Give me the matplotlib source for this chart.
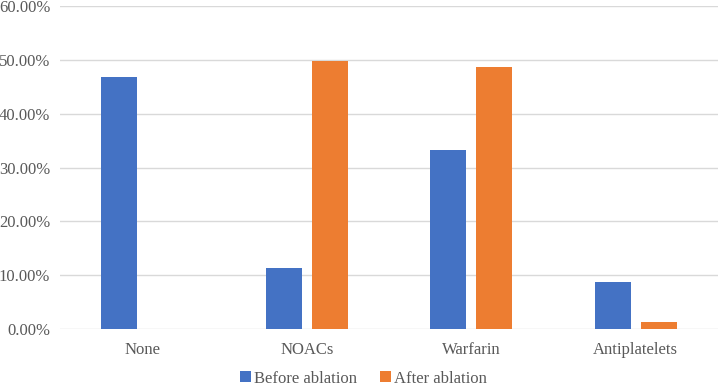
import matplotlib.pyplot as plt
import numpy as np
from matplotlib.ticker import FuncFormatter

# data
categories = ["None", "NOACs", "Warfarin", "Antiplatelets"]
before_ablation = [46.8, 11.3, 33.3, 8.7]
after_ablation = [0.0, 49.7, 48.6, 1.4]
series_names = ["Before ablation", "After ablation"]

blue = "#4472C4"
orange = "#ED7D31"
text_color = "#595959"

plt.rcParams["font.family"] = ["Liberation Serif", "DejaVu Serif"]

fig = plt.figure(figsize=(7.2, 3.9), dpi=100)
ax = fig.add_axes([0.0833, 0.156, 0.914, 0.829])

x = np.arange(len(categories))
w = 0.22
off = 0.14
ax.bar(x - off, before_ablation, width=w, color=blue, label=series_names[0], zorder=3)
ax.bar(x + off, after_ablation, width=w, color=orange, label=series_names[1], zorder=3)

ax.set_xlim(-0.5, len(categories) - 0.5)
ax.set_ylim(0, 60)
ax.set_yticks(np.arange(0, 61, 10))
ax.yaxis.set_major_formatter(FuncFormatter(lambda v, p: f"{v:.2f}%"))
ax.set_xticks(x)
ax.set_xticklabels(categories)

ax.grid(axis="y", color="#D9D9D9", linewidth=1.0, zorder=0)
for s in ax.spines.values():
    s.set_visible(False)
ax.tick_params(axis="both", length=0, labelsize=12, colors=text_color)
ax.tick_params(axis="y", pad=7)
ax.tick_params(axis="x", pad=9)

leg = fig.legend(loc="lower center", bbox_to_anchor=(0.505, -0.03), ncol=2, frameon=False,
                 fontsize=12, handlelength=0.65, handleheight=0.65, handletextpad=0.2,
                 columnspacing=1.4)
for t in leg.get_texts():
    t.set_color(text_color)

fig.savefig("out.png", dpi=100)
